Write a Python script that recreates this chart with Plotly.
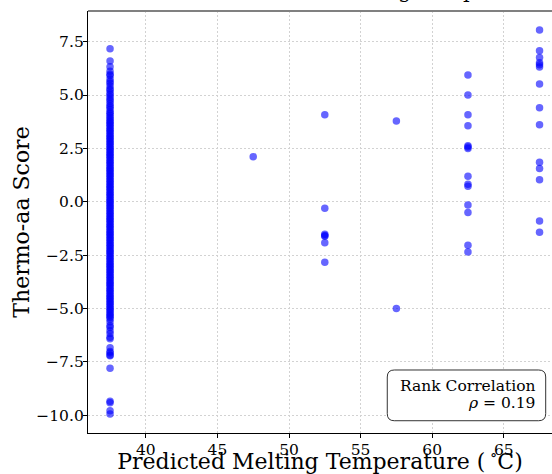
import plotly.graph_objects as go

# Predicted melting temperature bins (deg C) and the Thermo-aa scores observed in each
temps = [37.5, 47.5, 52.5, 57.5, 62.5, 67.5]

scores_375 = [
    7.17, 6.60, 6.33, 6.12, 5.98, 5.92, 5.75, 5.63, 5.55, 5.42, 5.30, 5.22, 5.10, 5.02,
    4.91, 4.80, 4.72, 4.61, 4.50, 4.43, 4.32, 4.21, 4.15, 4.05, 3.96, 3.88, 3.80,
    3.72, 3.65, 3.58, 3.50, 3.42, 3.35, 3.28, 3.20, 3.12, 3.05, 2.98, 2.90, 2.82, 2.75,
    2.68, 2.60, 2.52, 2.45, 2.38, 2.30, 2.22, 2.15, 2.08, 2.00, 1.92, 1.85, 1.78, 1.70,
    1.62, 1.55, 1.48, 1.40, 1.32, 1.25, 1.18, 1.10, 1.02, 0.95, 0.88, 0.80, 0.72, 0.65,
    0.58, 0.50, 0.42, 0.35, 0.28, 0.20, 0.12, 0.05, -0.02, -0.10, -0.18, -0.25, -0.32,
    -0.40, -0.48, -0.55, -0.62, -0.70, -0.78, -0.85, -0.92, -1.00, -1.08, -1.15, -1.22,
    -1.30, -1.38, -1.45, -1.52, -1.60, -1.68, -1.75, -1.82, -1.90, -1.98, -2.05, -2.12,
    -2.20, -2.28, -2.35, -2.42, -2.50, -2.58, -2.65, -2.72, -2.80, -2.88, -2.95, -3.02,
    -3.10, -3.18, -3.25, -3.32, -3.40, -3.48, -3.55, -3.62, -3.70, -3.78, -3.85, -3.92,
    -4.00, -4.08, -4.15, -4.22, -4.30, -4.38, -4.45, -4.52, -4.60, -4.68, -4.75, -4.82,
    -4.90, -4.98, -5.05, -5.12, -5.20, -5.28, -5.35, -5.42, -5.50,
    -5.62, -5.80, -5.88, -6.05, -6.18, -6.35, -6.42, -6.84, -7.02, -7.08, -7.18, -7.22,
    -7.80, -9.35, -9.42, -9.80, -9.95,
]
scores_475 = [2.11]
scores_525 = [4.08, -0.31, -1.52, -1.58, -1.62, -1.92, -2.84]
scores_575 = [3.78, -5.00]
scores_625 = [5.94, 5.00, 4.08, 3.56, 2.62, 2.56, 2.50, 1.19, 0.82, 0.72, -0.15, -0.51, -2.04, -2.36]
scores_675 = [8.05, 7.08, 6.76, 6.52, 6.42, 6.32, 5.52, 4.41, 3.61, 1.85, 1.56, 1.03, -0.90, -1.43]

score_groups = [scores_375, scores_475, scores_525, scores_575, scores_625, scores_675]

x_ticks = [40, 45, 50, 55, 60, 65]
y_ticks = [-10.0, -7.5, -5.0, -2.5, 0.0, 2.5, 5.0, 7.5]

rank_corr = 0.19

xs, ys = [], []
for t, group in zip(temps, score_groups):
    xs.extend([t] * len(group))
    ys.extend(group)

SERIF = "DejaVu Serif"

fig = go.Figure(
    go.Scatter(
        x=xs, y=ys, mode="markers",
        marker=dict(size=7.5, color="rgba(0,0,255,0.6)", line=dict(width=0)),
        showlegend=False, hoverinfo="skip",
    )
)

axis_common = dict(
    showline=True, linecolor="black", linewidth=1.3,
    ticks="outside", ticklen=4, tickwidth=1, tickcolor="black",
    showgrid=True, gridcolor="#d2d2d2", gridwidth=1, griddash="2px,2px",
    zeroline=False, automargin=False,
    tickfont=dict(family=SERIF, size=15.5, color="black"),
)

fig.update_xaxes(
    range=[35.96, 68.37], tickvals=x_ticks, ticklabelstandoff=-2,
    title=dict(text="Predicted Melting Temperature (\u2009<sup>\u2218</sup>C)",
               font=dict(family=SERIF, size=22, color="black"), standoff=2),
    **axis_common,
)
fig.update_yaxes(
    range=[-10.84, 8.94], tickvals=y_ticks, tickformat=".1f", ticklabelstandoff=-4,
    title=dict(text="Thermo-aa Score",
               font=dict(family=SERIF, size=22, color="black"), standoff=0),
    **axis_common,
)

# Rounded legend-style box behind the correlation text
W, H = 464.0, 422.0
bx0, bx1, by0, by1 = 0.645, 0.9864, 0.0291, 0.1493
rx, ry = 7 / W, 7 / H
box_path = (
    f"M {bx0 + rx},{by0} L {bx1 - rx},{by0} Q {bx1},{by0} {bx1},{by0 + ry} "
    f"L {bx1},{by1 - ry} Q {bx1},{by1} {bx1 - rx},{by1} "
    f"L {bx0 + rx},{by1} Q {bx0},{by1} {bx0},{by1 - ry} "
    f"L {bx0},{by0 + ry} Q {bx0},{by0} {bx0 + rx},{by0} Z"
)

fig.update_layout(
    width=552, height=474,
    margin=dict(l=88, r=0, t=11, b=41),
    paper_bgcolor="white", plot_bgcolor="white",
    font=dict(family=SERIF, color="black"),
    shapes=[
        dict(type="line", xref="paper", yref="paper", x0=0, x1=1, y0=1, y1=1,
             line=dict(color="#808080", width=2), layer="above"),
        dict(type="path", xref="paper", yref="paper", path=box_path,
             fillcolor="white", line=dict(color="#333333", width=1), layer="above"),
    ],
    annotations=[
        dict(text="Thermo-aa Score vs. Predicted Melting Temperature",
             xref="paper", yref="paper", x=-0.2069, y=1.0145,
             xanchor="left", yanchor="bottom", showarrow=False,
             font=dict(family=SERIF, size=21, color="black")),
        dict(text="Rank Correlation", xref="paper", yref="paper",
             x=0.967, y=0.1114, xanchor="right", yanchor="middle", showarrow=False,
             font=dict(family=SERIF, size=15.5, color="black")),
        dict(text=f"<i>\u03c1</i> = {rank_corr:.2f}", xref="paper", yref="paper",
             x=0.967, y=0.0711, xanchor="right", yanchor="middle", showarrow=False,
             font=dict(family=SERIF, size=15.5, color="black")),
    ],
)

fig.write_html("out.html")
